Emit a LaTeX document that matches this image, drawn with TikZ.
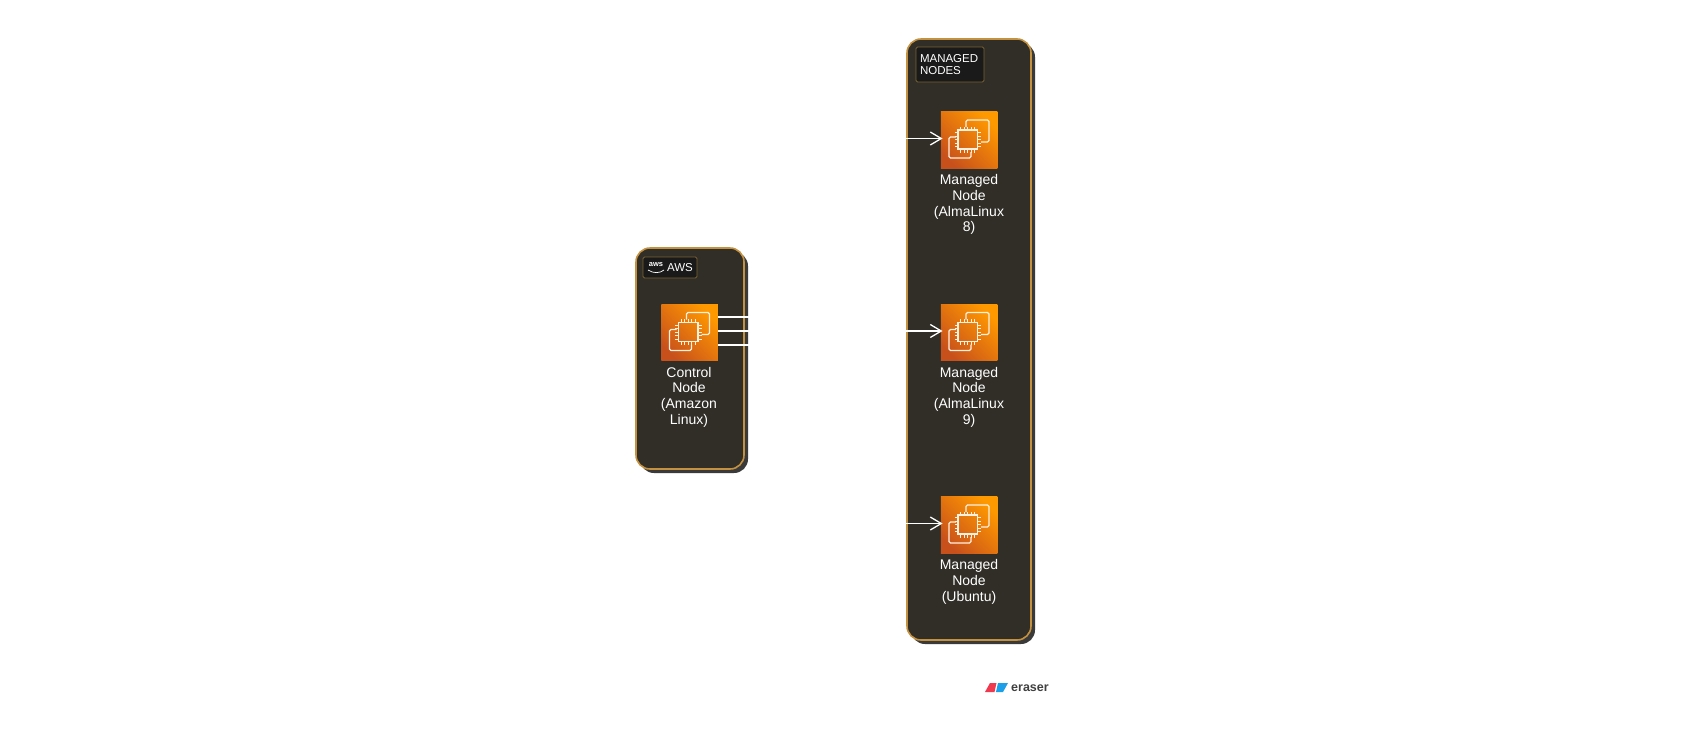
\documentclass[tikz,border=0pt]{standalone}
\usepackage{fontspec}
\setmainfont{Liberation Sans}
\usetikzlibrary{arrows.meta,shadows}

\definecolor{groupfill}{HTML}{312E27}
\definecolor{groupedge}{HTML}{C4913F}
\definecolor{groupshadow}{HTML}{3A3A3A}
\definecolor{tagfill}{HTML}{1A1A1A}
\definecolor{tagedge}{HTML}{7A6233}
\definecolor{chipdark}{HTML}{C8511B}
\definecolor{chiplight}{HTML}{FF9900}
\definecolor{chipline}{HTML}{FFF0E2}
\definecolor{markred}{HTML}{F0384F}
\definecolor{markblue}{HTML}{1A9FE8}

\tikzset{
  groupbox/.style={draw=groupedge,line width=1.6pt,fill=groupfill,rounded corners=14pt,
    general shadow={fill=groupshadow,shadow xshift=4pt,shadow yshift=-4pt}},
  tagbox/.style={draw=tagedge,line width=0.8pt,fill=tagfill,rounded corners=1.5pt,text=white,
    font=\fontsize{11.5}{12.8}\selectfont,align=left,inner sep=0pt},
  chipbox/.style={minimum width=56.5pt,minimum height=56.5pt,inner sep=0pt,
    bottom color=chipdark,top color=chiplight,shading angle=-45},
  hostlabel/.style={text=white,font=\fontsize{14}{15.6}\selectfont,align=center,anchor=north,inner sep=0pt},
  wire/.style={draw=white,line width=1.3pt,shorten >=-2pt},
  pics/chip/.style={code={
    \draw[chipline,line width=1.3pt,rounded corners=1.5pt] (-3,-13) -- (-3,-20) -- (20,-20) -- (20,2) -- (12,2);
    \draw[chipline,line width=1.3pt,rounded corners=1.5pt] (-13,-3) -- (-20,-3) -- (-20,18) -- (2,18) -- (2,12);
    \draw[chipline,line width=1.3pt] (-11,-10) rectangle (8.5,9);
    \foreach \p in {-7,-3.5,0,3.5,7} {
      \draw[chipline,line width=1pt] (\p-1.2,-10) -- (\p-1.2,-13.5) (\p-1.2,9) -- (\p-1.2,12.5);
      \draw[chipline,line width=1pt] (-11,\p-0.5) -- (-14.5,\p-0.5) (8.5,\p-0.5) -- (12,\p-0.5);
    }
  }}
}

\begin{document}
\begin{tikzpicture}[x=1pt,y=-1pt,>={Straight Barb[length=11pt,width=13pt]}]
  \useasboundingbox (0,0) rectangle (1681,750);

  % groups
  \node[groupbox,minimum width=108pt,minimum height=221pt,inner sep=0pt] (awsgroup) at (690,358.5) {};
  \node[groupbox,minimum width=124pt,minimum height=601pt,inner sep=0pt] (mgdgroup) at (969,339.5) {};

  % group tags
  \node[tagbox,minimum width=54pt,minimum height=21pt] (awstag) at (670,267.5) {};
  \node[text=white,font=\fontsize{11.5}{13}\selectfont,inner sep=0pt] (awsname) at (680,268) {AWS};
  \node[text=white,font=\bfseries\fontsize{7.5}{8}\selectfont,inner sep=0pt] (awslogo) at (656,265) {aws};
  \draw[white,line width=0.7pt] (648,270) .. controls (653,273.5) and (660,273.5) .. (664,270);
  \node[tagbox,minimum width=68pt,minimum height=35pt,text width=60pt] (mgdtag) at (950,64.5)
    {MANAGED\\NODES};

  % hosts
  \node[chipbox] (ctl) at (689.5,332.5) {};
  \pic at (ctl) {chip};
  \node[hostlabel] (ctllab) at (689,367) {Control\\Node\\(Amazon\\Linux)};

  \foreach \name/\ypos/\lab in {
    mgdA/140/{Managed\\Node\\(AlmaLinux\\8)},
    mgdB/332.5/{Managed\\Node\\(AlmaLinux\\9)},
    mgdC/525/{Managed\\Node\\(Ubuntu)}}
  {
    \node[chipbox] (\name) at (969,\ypos) {};
    \pic at (\name) {chip};
    \node[hostlabel] (\name lab) at (969,\ypos+34.5) {\lab};
  }

  % connectors, white on the page so only the dark parts show them
  \foreach \name/\off/\offb/\xmid in {mgdA/-15.5/-1.5/810,mgdB/-1.5/-1.5/830,mgdC/12.5/-1.5/850}
    \draw[wire,->] ([yshift=-\off pt]ctl.east) -- ++(\xmid-718,0) |- ([yshift=-\offb pt]\name.west);

  % footer mark
  \fill[markred] (985,692) -- (990,683) -- (996.5,683) -- (994.5,692) -- cycle;
  \fill[markblue] (996,692) -- (998,683) -- (1008,683) -- (1003,692) -- cycle;
  \node[text=black!75,font=\bfseries\fontsize{12.5}{14}\selectfont,inner sep=0pt,anchor=west] (marktext) at (1011,688.5) {eraser};
\end{tikzpicture}
\end{document}
